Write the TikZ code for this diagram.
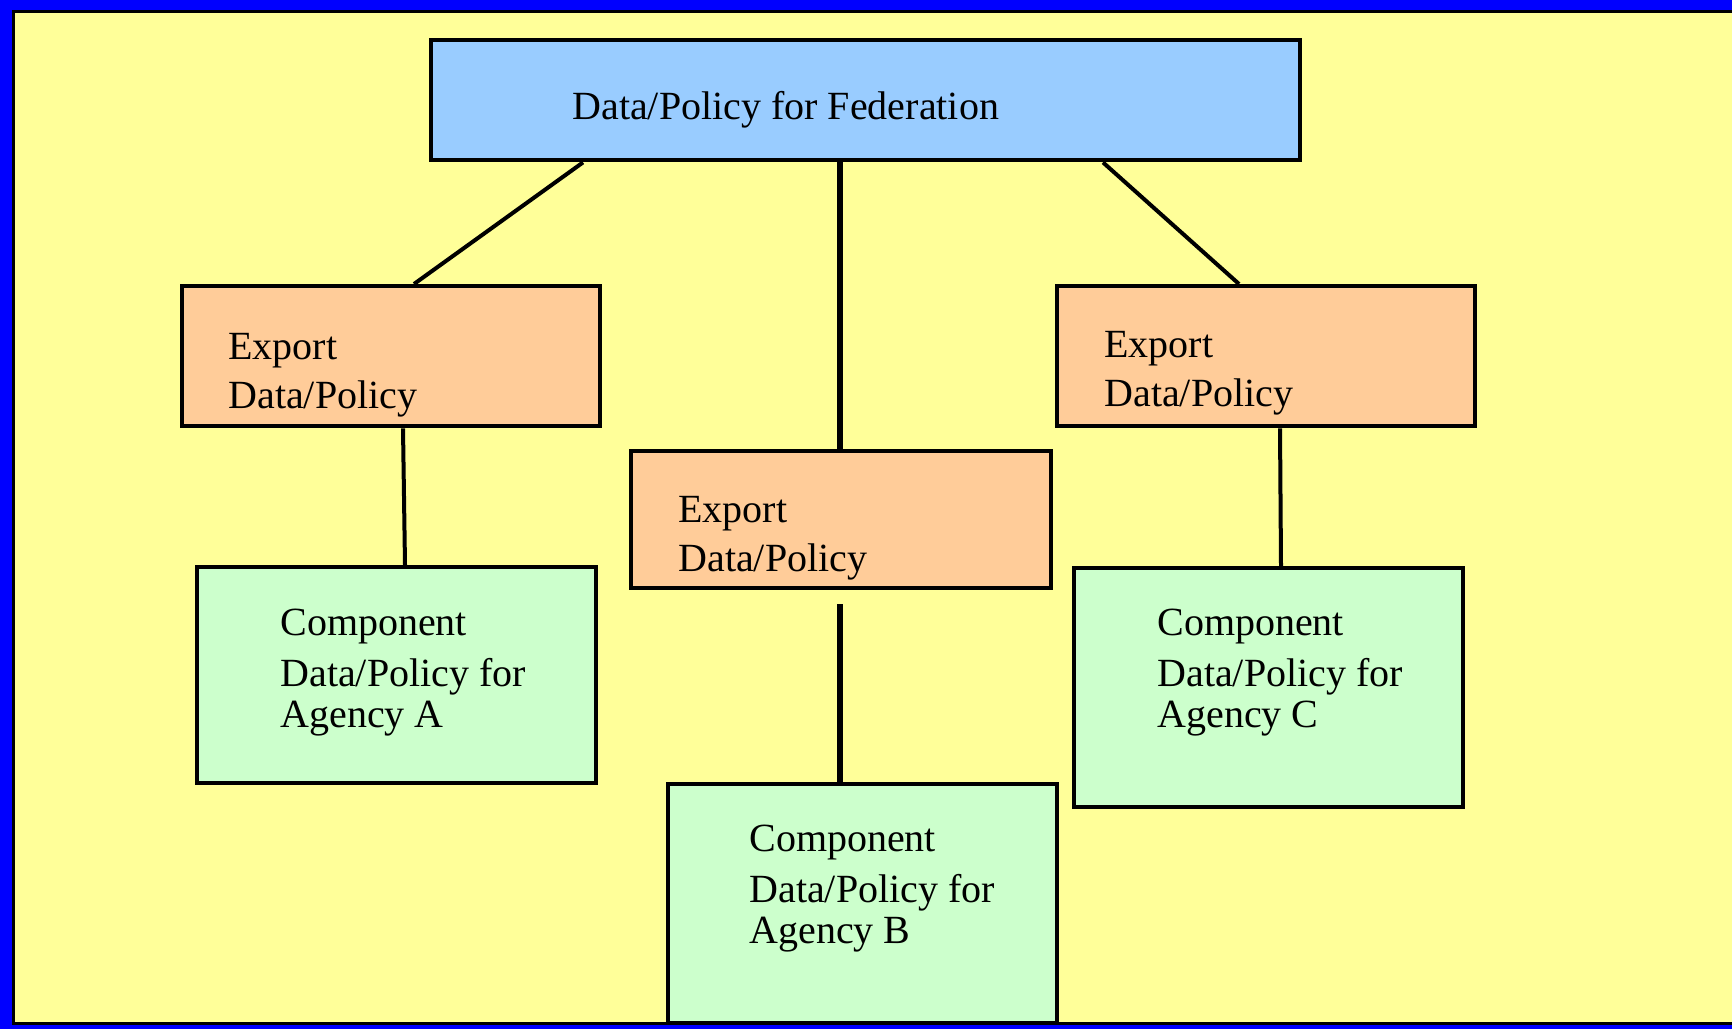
\documentclass[tikz,border=0pt]{standalone}
\usepackage{fontspec}
\setmainfont{Liberation Serif}
\usepackage{tikz}
\definecolor{framebg}{RGB}{0, 0, 255}
\definecolor{pagebg}{RGB}{255, 255, 153}
\definecolor{fedbg}{RGB}{153, 204, 255}
\definecolor{exportbg}{RGB}{255, 204, 153}
\definecolor{compbg}{RGB}{204, 255, 204}
\tikzset{
    box/.style={rectangle, draw=black, line width=2.2pt, anchor=north west, inner sep=0pt},
    fedbox/.style={box, fill=fedbg, minimum width=434.5pt, minimum height=60pt},
    exportbox/.style={box, fill=exportbg, minimum width=209pt, minimum height=70pt},
    compbox/.style={box, fill=compbg, minimum width=194.5pt, minimum height=119.5pt},
    boxtext/.style={anchor=base west, align=left, inner sep=0pt, font=\fontsize{20pt}{24.75pt}\selectfont},
    comptext/.style={boxtext, font=\fontsize{20pt}{20.5pt}\selectfont},
    link/.style={draw=black, line width=2pt},
    trunk/.style={draw=black, line width=3.2pt}
}

\begin{document}
\begin{tikzpicture}[x=0.5pt, y=-0.5pt]

    % Page frame
    \fill[framebg] (0,0) rectangle (1732,1029);
    \fill[black] (12,10) rectangle (1732,1025);
    \fill[pagebg] (15,13) rectangle (1732,1022);

    % Federation
    \node (fed) [fedbox] at (429,38) {};
    \node (fedtext) [boxtext] at ([xshift=71.5pt, yshift=-40.5pt]fed.north west) {Data/Policy for Federation};

    % Export schemas (text anchored on its last baseline)
    \node (expA) [exportbox] at (180,284) {};
    \node (expB) [exportbox, minimum width=210pt, minimum height=68.5pt] at (629,449) {};
    \node (expC) [exportbox] at (1055,284) {};
    \node (expAtext) [boxtext] at ([xshift=24pt, yshift=-62.25pt]expA.north west) {Export\\Data/Policy};
    \node (expBtext) [boxtext] at ([xshift=24.5pt, yshift=-61.25pt]expB.north west) {Export\\Data/Policy};
    \node (expCtext) [boxtext] at ([xshift=24.5pt, yshift=-61.25pt]expC.north west) {Export\\Data/Policy};

    % Component schemas
    \node (compA) [compbox, minimum width=199.5pt, minimum height=108pt] at (195,565) {};
    \node (compB) [compbox] at (666,782) {};
    \node (compC) [compbox] at (1072,566) {};
    \node (compAtext) [comptext] at ([xshift=42.5pt, yshift=-81.25pt]compA.north west) {Component\\[5.25pt]Data/Policy for\\Agency A};
    \node (compBtext) [comptext] at ([xshift=41.5pt, yshift=-80.75pt]compB.north west) {Component\\[5.25pt]Data/Policy for\\Agency B};
    \node (compCtext) [comptext] at ([xshift=42.5pt, yshift=-80.75pt]compC.north west) {Component\\[5.25pt]Data/Policy for\\Agency C};

    % Links: federation to exports
    \draw[link] ([xshift=77pt]fed.south west) -- ([xshift=117pt]expA.north west);
    \draw[trunk] ([xshift=205.5pt]fed.south west) -- ([xshift=105.5pt]expB.north west);
    \draw[link] ([xshift=337pt]fed.south west) -- ([xshift=92pt]expC.north west);

    % Links: exports to components
    \draw[link] ([xshift=111.5pt]expA.south west) -- ([xshift=105pt]compA.north west);
    \draw[trunk] ([xshift=105.5pt, yshift=-7pt]expB.south west) -- ([xshift=87pt]compB.north west);
    \draw[link] ([xshift=112.5pt]expC.south west) -- ([xshift=104.5pt]compC.north west);

\end{tikzpicture}
\end{document}
